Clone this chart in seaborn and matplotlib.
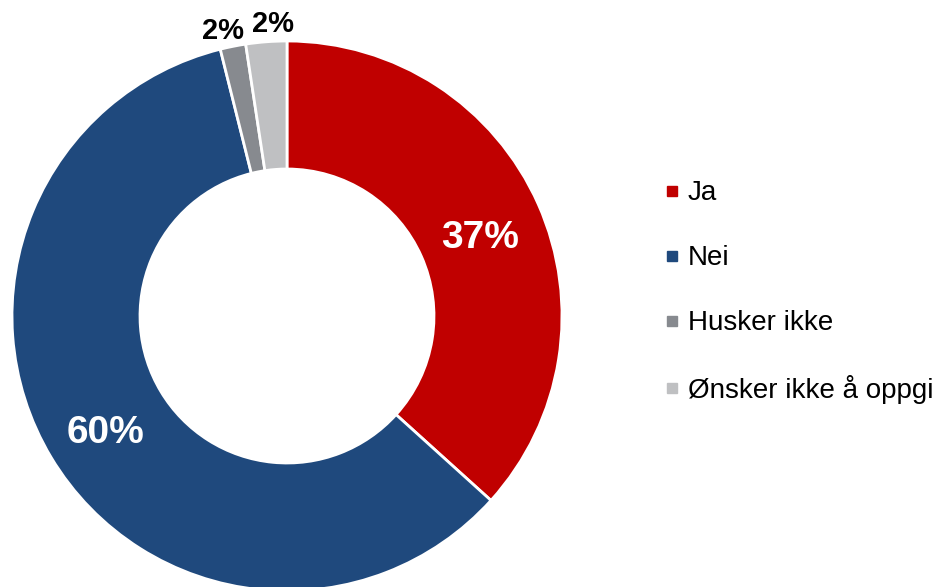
import numpy as np
import matplotlib
matplotlib.use("Agg")
import matplotlib.pyplot as plt
from matplotlib.lines import Line2D
import seaborn as sns

categories = ["Ja", "Nei", "Husker ikke", "Ønsker ikke å oppgi"]
values = [36.7, 59.4, 1.5, 2.4]
pct_labels = ["37%", "60%", "2%", "2%"]
colors = ["#C00000", "#1F497D", "#878A8F", "#BFC0C2"]

sns.set_theme(style="white")
plt.rcParams["font.family"] = ["Liberation Sans", "DejaVu Sans"]
plt.rcParams["text.color"] = "black"

fig = plt.figure(figsize=(9.38, 5.87), dpi=100)
W, H = 938, 587
cx, cy, R = 287, 316, 275
ax = fig.add_axes([(cx - R) / W, (H - cy - R) / H, 2 * R / W, 2 * R / H])

wedges, _ = ax.pie(values, colors=colors, startangle=90, counterclock=False,
                   radius=1.0,
                   wedgeprops=dict(width=128 / 275, edgecolor="white", linewidth=2.0))
ax.set_xlim(-1, 1)
ax.set_ylim(-1, 1)
ax.set_aspect("equal")
ax.axis("off")

small_nudge = {2: 1.2, 3: -1.6}
for i, (w, lab) in enumerate(zip(wedges, pct_labels)):
    mid_deg = (w.theta1 + w.theta2) / 2
    if i < 2:
        mid = np.deg2rad(mid_deg)
        r = 0.77
        ax.text(r * np.cos(mid), r * np.sin(mid) - 0.03, lab, ha="center", va="center",
                color="white", fontsize=28, fontweight="bold")
    else:
        mid = np.deg2rad(mid_deg + small_nudge[i])
        r = 1.068
        ax.text(r * np.cos(mid), r * np.sin(mid) - 0.005, lab, ha="center", va="center",
                color="black", fontsize=21, fontweight="bold")

handles = [Line2D([0], [0], marker="s", linestyle="none", markersize=7.5,
                  markerfacecolor=c, markeredgecolor=c) for c in colors]
leg = fig.legend(handles, categories, loc="center left", bbox_to_anchor=(664 / W, 0.502),
                 frameon=False, fontsize=20, labelspacing=1.4, handlelength=0.6,
                 handletextpad=0.25, borderaxespad=0, borderpad=0)
for t in leg.get_texts():
    t.set_color("black")

fig.savefig("out.png", dpi=100)
